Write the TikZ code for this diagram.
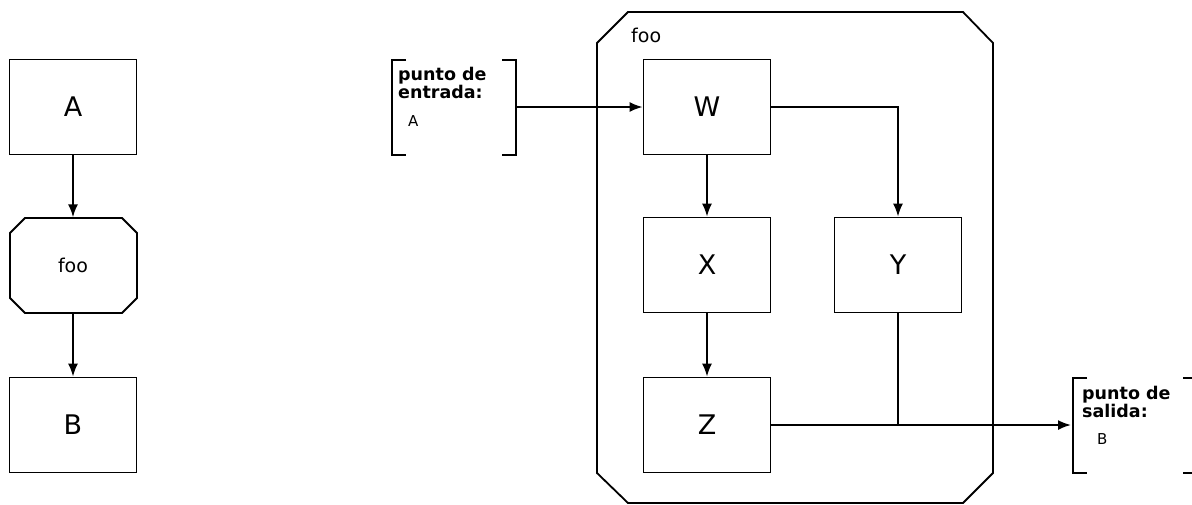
\documentclass[tikz,border=0pt]{standalone}
\usepackage{fontspec}
\setmainfont{DejaVu Sans}
\usetikzlibrary{arrows.meta}
\begin{document}
\begin{tikzpicture}[x=1pt,y=-1pt,
  box/.style={draw,line width=1.8pt,minimum width=127pt,minimum height=95pt,inner sep=0pt,font=\fontsize{27}{30}\selectfont},
  conn/.style={line width=1.8pt,-{Latex[length=13pt,width=10pt]}},
  plain/.style={line width=1.8pt},
  brk/.style={line width=1.8pt},
  bold/.style={anchor=north west,inner sep=0pt,align=left,font=\bfseries\fontsize{17.5}{16}\selectfont},
  small/.style={anchor=north west,inner sep=0pt,font=\fontsize{15}{16}\selectfont}]
\useasboundingbox (0,0) rectangle (1192,504);
% left column
\node[box] (A) at (73,107) {A};
\node[box] (B) at (73,425) {B};
\draw[plain] (10,233) -- (25,218) -- (122,218) -- (137,233) -- (137,298) -- (122,313) -- (25,313) -- (10,298) -- cycle;
\node[minimum width=127pt,minimum height=95pt,inner sep=0pt,font=\fontsize{19}{20}\selectfont] (foo) at (73,265) {foo};
\draw[conn] (A) -- (foo);
\draw[conn] (foo) -- (B);
% big container
\draw[plain] (597,43) -- (628,12) -- (963,12) -- (993,43) -- (993,473) -- (963,503) -- (628,503) -- (597,473) -- cycle;
\node[anchor=north west,inner sep=0pt,font=\fontsize{19}{20}\selectfont] (foolab) at (631,28) {foo};
\node[box] (W) at (707,107) {W};
\node[box] (X) at (707,265) {X};
\node[box] (Y) at (898,265) {Y};
\node[box] (Z) at (707,425) {Z};
\draw[conn] (W) -- (X);
\draw[conn] (X) -- (Z);
\draw[conn] (W.east) -| (Y.north);
\coordinate (J) at (Y.south |- Z.east);
\draw[plain] (Y.south) -- (J);
% entry bracket
\draw[brk] (406,60) -- (392,60) -- (392,155) -- (406,155);
\draw[brk] (502,60) -- (516,60) -- (516,155) -- (502,155);
\coordinate (entryR) at (516,107);
\node[bold] (entt) at (398,67) {punto de\\entrada:};
\node[small] (enta) at (408,115) {A};
\draw[conn] (entryR) -- (W.west);
% exit bracket
\draw[brk] (1087,378) -- (1073,378) -- (1073,473) -- (1087,473);
\draw[brk] (1183,378) -- (1197,378) -- (1197,473) -- (1183,473);
\coordinate (exitL) at (1071,425);
\node[bold] (ext) at (1082,386) {punto de\\salida:};
\node[small] (exb) at (1097,433) {B};
\draw[conn] (Z.east) -- (exitL);
\end{tikzpicture}
\end{document}
